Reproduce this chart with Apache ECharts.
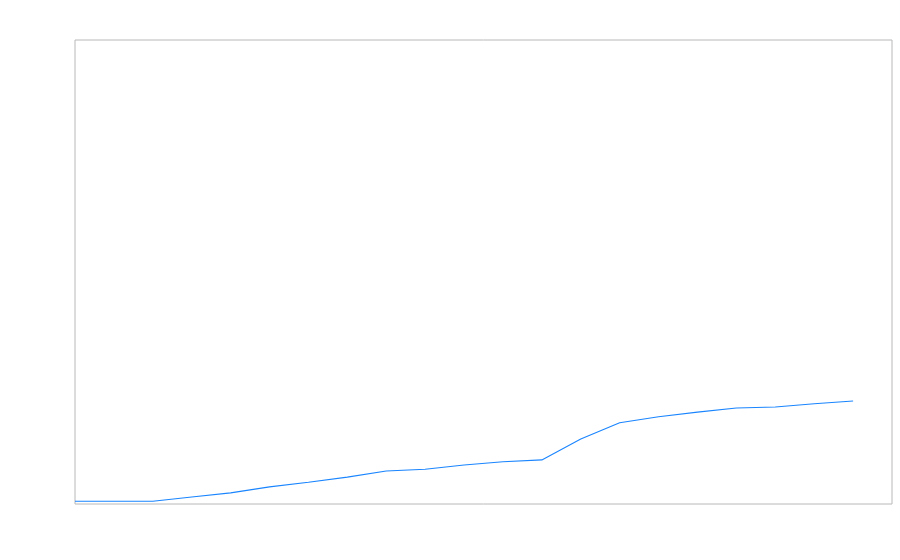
<!DOCTYPE html>
<html>
<head>
<meta charset="utf-8">
<script src="https://cdn.jsdelivr.net/npm/echarts@6/dist/echarts.min.js"></script>
<style>html,body{margin:0;padding:0;background:#fff}#c{width:900px;height:560px}</style>
</head>
<body>
<div id="c"></div>
<script>
var categories = ['1','2','3','4','5','6','7','8','9','10','11','12','13','14','15','16','17','18','19','20','21','22'];
var values = [0.6, 0.6, 0.6, 1.5, 2.4, 3.7, 4.7, 5.8, 7.1, 7.5, 8.4, 9.1, 9.5, 14.0, 17.5, 18.8, 19.8, 20.7, 20.9, 21.6, 22.2, null];
var yMin = 0, yMax = 100;

var chart = echarts.init(document.getElementById('c'), null, {renderer: 'canvas'});
chart.setOption({
  animation: false,
  grid: {left: 75, top: 40, right: 8, bottom: 56, show: true, borderColor: '#b8b8b8', borderWidth: 1, backgroundColor: 'transparent'},
  xAxis: {type: 'category', data: categories, boundaryGap: false, show: false},
  yAxis: {type: 'value', min: yMin, max: yMax, show: false},
  series: [{
    type: 'line',
    data: values,
    showSymbol: false,
    symbol: 'none',
    lineStyle: {color: '#1a85ff', width: 1.1},
    itemStyle: {color: '#1a85ff'}
  }]
});
</script>
</body>
</html>
